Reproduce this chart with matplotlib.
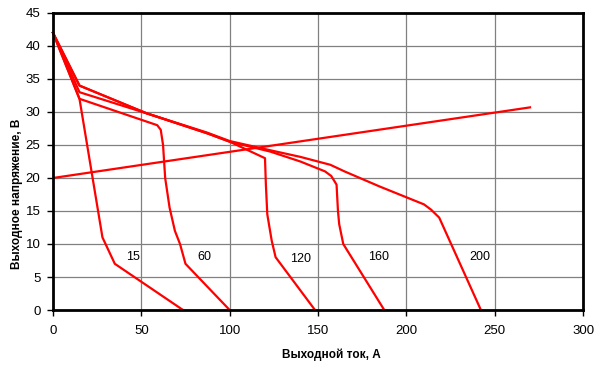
import matplotlib
matplotlib.use("Agg")
import matplotlib.pyplot as plt

plt.rcParams['font.family'] = ['Liberation Sans', 'DejaVu Sans']

# Load line
line_x = [0, 270]
line_y = [20, 30.7]

# Curves (current, voltage) labelled by setting
c15_x = [0, 15, 28, 35, 73.6]
c15_y = [42, 32, 11, 7, 0]
c60_x = [0, 15, 59, 61, 62.3, 63.5, 66, 69, 71.9, 75, 100]
c60_y = [42, 32, 28, 27.3, 25, 20, 15.5, 12, 10, 7, 0]
c120_x = [0, 15, 53, 87, 100, 120, 120.5, 121.3, 123.8, 126, 148.3]
c120_y = [42, 34, 29.8, 26.8, 25.5, 23, 19, 14.5, 10.5, 8, 0]
c160_x = [0, 15, 53, 88, 100, 123, 140, 154, 157.5, 160.5, 161.3, 162, 164.3, 187.5]
c160_y = [42, 33, 29.8, 26.7, 25.5, 24, 22.5, 21, 20.3, 19, 15, 13, 10, 0]
c200_x = [0, 15, 53, 87, 100, 123, 140, 157, 165, 185, 210, 214, 218.6, 242.2]
c200_y = [42, 34, 29.8, 26.9, 25.6, 24.2, 23.2, 22, 21, 18.7, 16, 15.2, 14, 0]

labels = ["15", "60", "120", "160", "200"]
label_x = [45.3, 85.5, 140.4, 184, 241.6]
label_y = [8, 8, 7.7, 8, 8]

fig = plt.figure(figsize=(6, 3.66), dpi=100)
ax = fig.add_axes([0.0883, 0.153, 0.8834, 0.8115])

red = '#ff0000'
lw = 1.6
ax.plot(line_x, line_y, color=red, lw=lw, solid_joinstyle='round')
for xs, ys in [(c15_x, c15_y), (c60_x, c60_y), (c120_x, c120_y),
               (c160_x, c160_y), (c200_x, c200_y)]:
    ax.plot(xs, ys, color=red, lw=lw, solid_joinstyle='round', clip_on=False)

for t, x, y in zip(labels, label_x, label_y):
    ax.text(x, y, t, ha='center', va='center', fontsize=9, color='black')

ax.set_xlim(0, 300)
ax.set_ylim(0, 45)
ax.set_xticks(range(0, 301, 50))
ax.set_yticks(range(0, 46, 5))
ax.grid(True, color='#808080', lw=0.9)
ax.set_axisbelow(True)
for s in ax.spines.values():
    s.set_color('black')
    s.set_linewidth(2)
ax.tick_params(axis='both', labelsize=9.5, length=4, width=1, color='black')
ax.tick_params(axis='x', pad=7)
ax.tick_params(axis='y', pad=5)
ax.set_xlabel('Выходной ток, А', fontsize=8.5, fontweight='bold')
ax.set_ylabel('Выходное напряжение, В', fontsize=8.5, fontweight='bold')
ax.xaxis.set_label_coords(0.526, -0.128)
ax.yaxis.set_label_coords(-0.056, 0.392)

fig.savefig('out.png', dpi=100)
